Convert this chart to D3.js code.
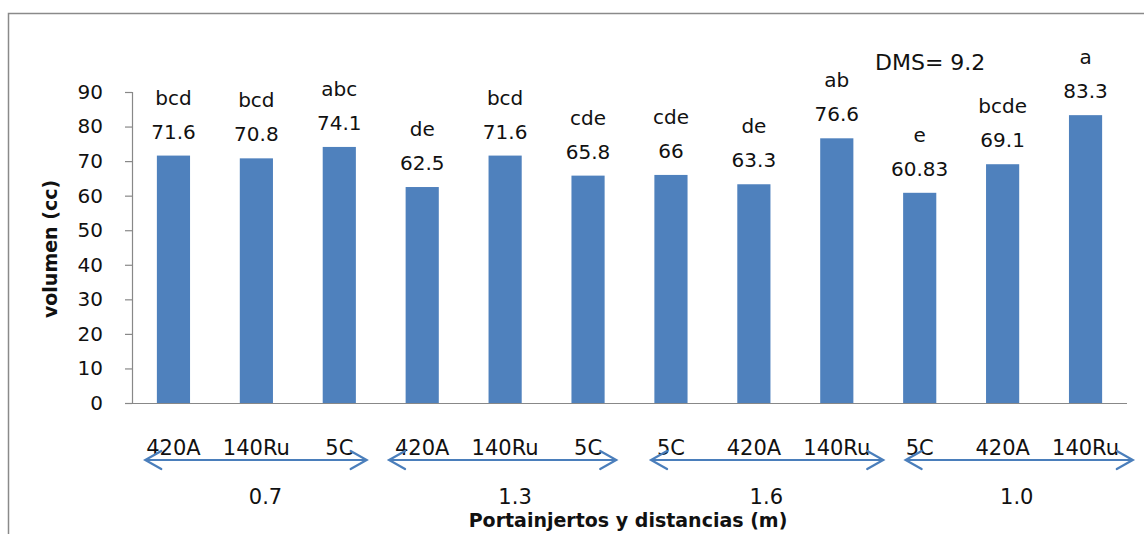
<!DOCTYPE html>
<html>
<head>
<meta charset="utf-8">
<script src="https://cdn.jsdelivr.net/npm/d3@7"></script>
<style>
  html, body { margin: 0; padding: 0; background: #fff; }
  svg { display: block; }
  text { font-family: "DejaVu Sans", sans-serif; fill: #111; }
</style>
</head>
<body>
<div id="chart"></div>
<script>
// ---- data ----
const categories = ["420A","140Ru","5C","420A","140Ru","5C","5C","420A","140Ru","5C","420A","140Ru"];
const values = [71.6, 70.8, 74.1, 62.5, 71.6, 65.8, 66, 63.3, 76.6, 60.83, 69.1, 83.3];
const valueLabels = ["71.6","70.8","74.1","62.5","71.6","65.8","66","63.3","76.6","60.83","69.1","83.3"];
const letters = ["bcd","bcd","abc","de","bcd","cde","cde","de","ab","e","bcde","a"];
const yTicks = [0, 10, 20, 30, 40, 50, 60, 70, 80, 90];
const groupLabels = ["0.7", "1.3", "1.6", "1.0"];
// arrow extents and label positions, in category-index units
const arrowStart = [-0.34, 2.60, 5.76, 8.83];
const arrowEnd = [2.33, 5.34, 8.56, 11.57];
const groupLabelPos = [1.11, 4.12, 7.15, 10.17];
const yTitle = "volumen (cc)";
const xTitle = "Portainjertos y distancias (m)";
const note = "DMS= 9.2";

// ---- layout ----
const W = 1144, H = 534;
const plot = { left: 132, right: 1127, top: 92, bottom: 403 };
const barColor = "#4F81BD";
const axisColor = "#888888";
const FONT = "'DejaVu Sans', sans-serif";

const svg = d3.select("#chart").append("svg").attr("width", W).attr("height", H);

// outer frame (cropped)
svg.append("path")
  .attr("d", `M8.5,${H} V13.5 H${W}`)
  .attr("fill", "none").attr("stroke", "#8a8a8a").attr("stroke-width", 1.5);

const x = d3.scaleBand().domain(d3.range(categories.length))
  .range([plot.left, plot.right]).paddingInner(0.6).paddingOuter(0.3);
const y = d3.scaleLinear().domain([0, 90]).range([plot.bottom, plot.top]);
const idx = d3.scaleLinear().domain([0, 1])
  .range([x(0) + x.bandwidth() / 2, x(1) + x.bandwidth() / 2]);

// y axis
const yAxis = svg.append("g").attr("transform", `translate(${plot.left},0)`)
  .call(d3.axisLeft(y).tickValues(yTicks).tickSize(7).tickPadding(22));
yAxis.select(".domain").attr("stroke", axisColor).attr("stroke-width", 1.2);
yAxis.selectAll(".tick line").attr("stroke", axisColor).attr("stroke-width", 1.2);
yAxis.selectAll(".tick text").style("font-size", "20px").attr("fill", "#111")
  .style("font-family", FONT);

// bars
svg.append("g").selectAll("rect").data(values).join("rect")
  .attr("x", (d, i) => x(i))
  .attr("y", d => y(d))
  .attr("width", x.bandwidth())
  .attr("height", d => y(0) - y(d))
  .attr("fill", barColor);

// x axis
const xAxis = svg.append("g").attr("transform", `translate(0,${plot.bottom})`)
  .call(d3.axisBottom(x).tickSize(0).tickPadding(37).tickFormat(i => categories[i]));
xAxis.select(".domain").attr("d", `M${plot.left - 7},0.5H${plot.right}`)
  .attr("stroke", axisColor).attr("stroke-width", 1.2);
xAxis.selectAll(".tick text").style("font-size", "21px").attr("fill", "#111")
  .style("font-family", FONT);

// data labels
const lbl = svg.append("g").attr("text-anchor", "middle").style("font-size", "20px");
lbl.selectAll("text.v").data(values).join("text").attr("class", "v")
  .attr("x", (d, i) => x(i) + x.bandwidth() / 2)
  .attr("y", d => y(d) - 17)
  .text((d, i) => valueLabels[i]);
lbl.selectAll("text.l").data(values).join("text").attr("class", "l")
  .attr("x", (d, i) => x(i) + x.bandwidth() / 2)
  .attr("y", d => y(d) - 51)
  .text((d, i) => letters[i]);

// group arrows
const arrowY = 460;
const arrowColor = "#4A7EBB";
const ag = svg.append("g").attr("fill", "none").attr("stroke", arrowColor)
  .attr("stroke-width", 2.2).attr("stroke-linecap", "round");
groupLabels.forEach((g, k) => {
  const x0 = idx(arrowStart[k]), x1 = idx(arrowEnd[k]);
  ag.append("path").attr("d",
    `M${x0},${arrowY}H${x1}` +
    `M${x0 + 16},${arrowY - 9}L${x0},${arrowY}L${x0 + 16},${arrowY + 9}` +
    `M${x1 - 16},${arrowY - 9}L${x1},${arrowY}L${x1 - 16},${arrowY + 9}`);
});
svg.append("g").attr("text-anchor", "middle").style("font-size", "21px")
  .selectAll("text").data(groupLabels).join("text")
  .attr("x", (d, k) => idx(groupLabelPos[k]))
  .attr("y", 504)
  .text(d => d);

// titles
svg.append("text").attr("text-anchor", "middle")
  .attr("transform", `translate(57,249) rotate(-90)`)
  .style("font-size", "19px").style("font-weight", "bold")
  .text(yTitle);
svg.append("text").attr("text-anchor", "middle")
  .attr("x", 628).attr("y", 527)
  .style("font-size", "19px").style("font-weight", "bold")
  .text(xTitle);
svg.append("text").attr("x", 875).attr("y", 70)
  .style("font-size", "22px")
  .text(note);
</script>
</body>
</html>
